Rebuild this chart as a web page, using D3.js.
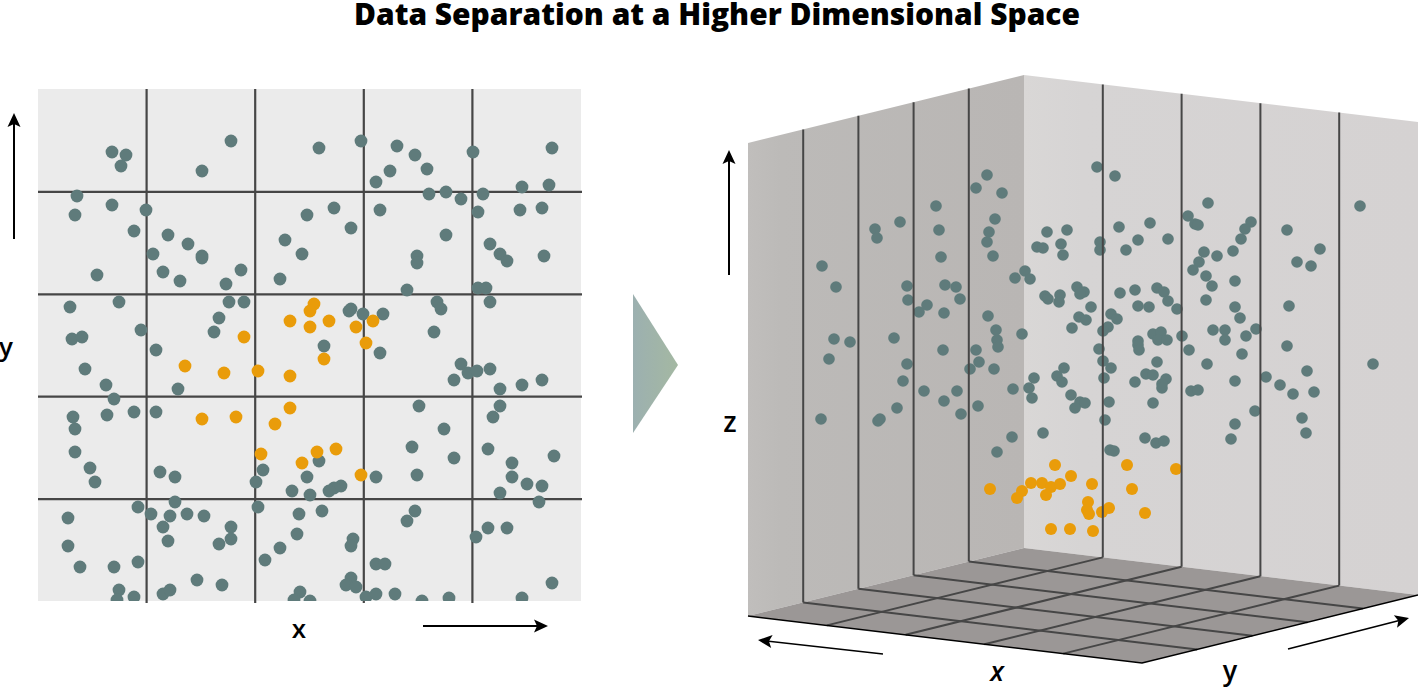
<!DOCTYPE html>
<html>
<head>
<meta charset="utf-8">
<script src="https://cdn.jsdelivr.net/npm/d3@7"></script>
<style>
  html, body { margin: 0; padding: 0; background: #fff; }
  svg { display: block; }
  text { font-family: "Open Sans", sans-serif; fill: #000; }
</style>
</head>
<body>
<svg id="chart" width="1418" height="688"></svg>
<script>
const titleText = 'Data Separation at a Higher Dimensional Space'
const labels2d = ['x', 'y']
const labels3d = ['x', 'y', 'z']

// left panel, [x, y] in panel units
const teal2d = [
  [193,460],[74,449],[88,446],[83,435],[164,430],[39,405],[74,396],[37,386],[108,391],[96,370],
  [130,366],[150,357],[115,347],[164,345],[164,343],[247,361],[264,347],[203,331],[125,329],[142,320],
  [188,317],[242,322],[59,326],[32,294],[81,299],[191,299],[206,299],[181,283],[176,269],[103,271],
  [34,262],[44,264],[118,251],[281,453],[323,460],[359,455],[377,446],[389,432],[352,430],[338,419],
  [435,449],[514,453],[484,414],[511,416],[391,407],[408,409],[423,402],[445,407],[440,389],[482,391],
  [504,393],[342,391],[296,393],[269,386],[313,373],[408,366],[452,357],[462,347],[469,340],[506,345],
  [379,345],[379,338],[369,311],[440,313],[448,313],[452,299],[399,299],[403,292],[396,269],[311,290],
  [313,292],[325,287],[345,287],[286,255],[342,248],[47,232],[68,216],[76,202],[140,212],[35,184],
  [69,186],[96,189],[118,189],[37,172],[37,149],[52,133],[57,119],[122,129],[137,124],[225,131],
  [218,119],[254,110],[137,99],[100,94],[113,87],[132,85],[149,87],[166,85],[30,83],[125,74],
  [193,74],[193,62],[181,57],[130,60],[30,55],[242,53],[259,67],[261,87],[220,94],[227,41],
  [42,34],[76,34],[100,39],[81,11],[79,1],[96,4],[125,7],[132,11],[159,21],[184,16],
  [262,9],[256,1],[423,237],[430,228],[439,230],[452,232],[416,221],[462,212],[484,216],[504,221],
  [462,195],[455,184],[381,195],[406,172],[374,154],[416,143],[450,152],[474,138],[516,145],[379,126],
  [474,124],[489,117],[504,115],[462,108],[501,99],[338,124],[377,90],[369,80],[450,73],[469,73],
  [438,64],[281,140],[269,124],[303,115],[296,113],[291,110],[272,106],[284,90],[315,62],[313,55],
  [338,37],[347,37],[313,23],[308,16],[318,14],[328,4],[338,7],[357,7],[384,0],[411,3],
  [484,3],[514,18],[272,0]
]
const orange2d = [
  [252,280],[206,264],[276,297],[272,290],[291,280],[272,274],[318,274],[335,280],[328,258],[286,242],
  [147,235],[186,228],[220,230],[252,225],[252,193],[164,182],[198,184],[237,177],[223,147],[264,138],
  [279,149],[298,152],[323,126]
]

// right panel, [x, z] as seen on the page
const teal3d = [
  [239,441],[228,428],[254,423],[188,410],[247,397],[152,394],[127,387],[129,378],[191,386],[241,384],
  [239,374],[193,359],[245,360],[299,384],[319,386],[313,372],[289,369],[295,368],[315,361],[74,350],
  [88,329],[159,330],[160,316],[197,331],[208,329],[212,317],[179,311],[171,304],[196,303],[267,338],
  [277,345],[282,337],[297,320],[300,317],[312,321],[311,314],[240,300],[248,286],[249,276],[250,269],
  [274,282],[86,277],[102,274],[146,278],[81,257],[195,266],[228,266],[231,254],[159,252],[222,247],
  [246,247],[316,248],[352,374],[352,366],[371,389],[402,393],[390,376],[420,377],[378,366],[440,400],
  [447,392],[450,391],[456,364],[451,354],[445,346],[329,329],[336,324],[332,322],[343,309],[331,299],
  [338,296],[324,288],[363,302],[369,297],[360,289],[355,285],[372,323],[387,326],[390,310],[401,309],
  [409,328],[416,324],[420,315],[429,307],[405,282],[413,284],[410,276],[419,276],[434,280],[390,275],
  [390,271],[391,266],[351,267],[355,255],[441,266],[409,254],[363,248],[286,238],[309,240],[314,234],
  [281,228],[265,227],[284,218],[356,238],[398,242],[405,241],[418,237],[414,232],[414,228],[387,234],
  [443,225],[450,226],[323,221],[332,214],[337,213],[327,208],[361,214],[405,213],[357,196],[264,179],
  [295,183],[249,164],[397,178],[408,173],[416,175],[362,166],[366,165],[155,235],[176,225],[209,225],
  [196,215],[149,208],[230,210],[213,202],[73,197],[130,195],[132,197],[349,449],[367,440],[460,413],
  [612,410],[503,394],[497,387],[493,377],[539,386],[572,367],[469,360],[485,365],[549,354],[563,350],
  [458,340],[464,330],[487,335],[458,316],[487,309],[541,310],[492,298],[465,286],[477,286],[477,276],
  [498,280],[508,287],[539,270],[494,262],[459,252],[559,245],[625,252],[487,235],[518,239],[532,231],
  [545,222],[566,224],[507,205],[487,192],[483,177],[554,198],[558,183]
]
const orange3d = [
  [307,151],[379,151],[428,147],[323,140],[283,133],[294,133],[303,129],[312,132],[344,132],[384,127],
  [274,125],[269,118],[298,121],[340,114],[339,106],[341,102],[354,104],[361,108],[397,103],[303,87],
  [322,87],[345,85],[242,127]
]

const gridSteps = [0.2, 0.4, 0.6, 0.8]
const tealColor = '#5f7b7b'
const orangeColor = '#e99c0a'
const lineColor = '#464646'

const svg = d3.select('#chart')
const defs = svg.append('defs')

const addGradient = (id, stops) => {
  const g = defs.append('linearGradient')
    .attr('id', id)
    .attr('x1', '0%').attr('y1', '0%')
    .attr('x2', '100%').attr('y2', '0%')
  stops.forEach(([offset, color]) => {
    g.append('stop').attr('offset', offset).attr('stop-color', color)
  })
}

addGradient('wall-left', [['0%', '#c0bebc'], ['12%', '#bcbab8'], ['100%', '#b9b6b4']])
addGradient('wall-right', [['0%', '#d9d7d6'], ['15%', '#d6d4d4'], ['100%', '#d5d2d2']])
addGradient('pointer', [['0%', '#9cb0b0'], ['100%', '#a4b8a2']])

defs.append('marker')
  .attr('id', 'head')
  .attr('markerUnits', 'userSpaceOnUse')
  .attr('viewBox', '-16 -8 20 16')
  .attr('refX', 0).attr('refY', 0)
  .attr('markerWidth', 20).attr('markerHeight', 16)
  .attr('orient', 'auto')
  .append('path')
  .attr('d', 'M3,0L-11,-6.5L-8,0L-11,6.5Z')
  .attr('fill', '#000')

const drawDots = (group, data, color, r, scales) => {
  group.append('g')
    .attr('fill', color)
    .selectAll('circle')
    .data(data)
    .join('circle')
    .attr('cx', d => scales.x(d[0]))
    .attr('cy', d => scales.y(d[1]))
    .attr('r', r)
}

// the head reaches 3px past the end of the line, so the tip stays sharp
const drawArrow = (x1, y1, x2, y2, width) => {
  const len = Math.hypot(x2 - x1, y2 - y1)
  svg.append('line')
    .attr('x1', x1).attr('y1', y1)
    .attr('x2', x2 - (x2 - x1) / len * 3).attr('y2', y2 - (y2 - y1) / len * 3)
    .attr('stroke', '#000')
    .attr('stroke-width', width)
    .attr('marker-end', 'url(#head)')
}

const drawLabel = (text, x, y, size, style) => {
  svg.append('text')
    .attr('x', x).attr('y', y)
    .attr('text-anchor', 'middle')
    .attr('font-size', size)
    .attr('font-weight', 600)
    .attr('font-style', style || 'normal')
    .text(text)
}

const drawFlat = () => {
  const box = { left: 38, right: 581, top: 89, bottom: 601 }
  const scales = {
    x: d3.scaleLinear().domain([0, 543]).range([box.left, box.right]),
    y: d3.scaleLinear().domain([0, 512]).range([box.bottom, box.top])
  }
  const w = box.right - box.left
  const h = box.bottom - box.top

  defs.append('clipPath')
    .attr('id', 'flat-clip')
    .append('rect')
    .attr('x', box.left).attr('y', box.top)
    .attr('width', w).attr('height', h)

  const flat = svg.append('g')
  flat.append('rect')
    .attr('x', box.left).attr('y', box.top)
    .attr('width', w).attr('height', h)
    .attr('fill', '#ebebeb')

  flat.append('g')
    .selectAll('line')
    .data(gridSteps)
    .join('line')
    .attr('x1', d => box.left + w * d).attr('x2', d => box.left + w * d)
    .attr('y1', box.top).attr('y2', box.bottom + 2)
    .attr('stroke', lineColor).attr('stroke-width', 2.2)

  flat.append('g')
    .selectAll('line')
    .data(gridSteps)
    .join('line')
    .attr('y1', d => box.top + h * (1 - d) + 0.5).attr('y2', d => box.top + h * (1 - d) + 0.5)
    .attr('x1', box.left).attr('x2', box.right + 1)
    .attr('stroke', lineColor).attr('stroke-width', 2.2)

  const dots = flat.append('g').attr('clip-path', 'url(#flat-clip)')
  drawDots(dots, teal2d, tealColor, 6.4, scales)
  drawDots(dots, orange2d, orangeColor, 6.4, scales)
}

const drawBox = () => {
  const scales = {
    x: d3.scaleLinear().domain([0, 670]).range([748, 1418]),
    y: d3.scaleLinear().domain([0, 542]).range([616, 74])
  }
  const corners = {
    backTop: [1024, 75],
    leftTop: [748, 143],
    rightTop: [1418, 122],
    back: [1024, 548],
    left: [748, 616],
    right: [1418, 595],
    front: [1142, 663]
  }
  const lerp = (a, b, t) => d3.interpolateArray(a, b)(t)
  const polygon = pts => 'M' + pts.map(p => p.join(',')).join('L') + 'Z'
  const box = svg.append('g')

  box.append('path')
    .attr('d', polygon([corners.leftTop, corners.backTop, corners.back, corners.left]))
    .attr('fill', 'url(#wall-left)')
  box.append('path')
    .attr('d', polygon([corners.backTop, corners.rightTop, corners.right, corners.back]))
    .attr('fill', 'url(#wall-right)')
  box.append('path')
    .attr('d', polygon([corners.left, corners.back, corners.right, corners.front]))
    .attr('fill', '#9b9796')

  const segments = [
    ...gridSteps.map(t => [lerp(corners.leftTop, corners.backTop, t), lerp(corners.left, corners.back, t)]),
    ...gridSteps.map(t => [lerp(corners.backTop, corners.rightTop, t), lerp(corners.back, corners.right, t)]),
    ...gridSteps.map(t => [lerp(corners.left, corners.back, t), lerp(corners.front, corners.right, t)]),
    ...gridSteps.map(t => [lerp(corners.back, corners.right, t), lerp(corners.left, corners.front, t)])
  ]

  drawDots(box, teal3d, tealColor, 5.8, scales)
  drawDots(box, orange3d, orangeColor, 6, scales)

  box.append('g')
    .selectAll('line')
    .data(segments)
    .join('line')
    .attr('x1', d => d[0][0]).attr('y1', d => d[0][1])
    .attr('x2', d => d[1][0]).attr('y2', d => d[1][1])
    .attr('stroke', lineColor).attr('stroke-width', 2)

  box.append('path')
    .attr('d', d3.line()([corners.left, corners.front, corners.right]))
    .attr('fill', 'none')
    .attr('stroke', '#000')
    .attr('stroke-width', 1.5)
}

svg.append('text')
  .attr('x', 717)
  .attr('y', 25)
  .attr('text-anchor', 'middle')
  .attr('font-size', 30)
  .attr('font-weight', 800)
  .attr('textLength', 726)
  .attr('lengthAdjust', 'spacingAndGlyphs')
  .text(titleText)

drawFlat()
drawBox()

svg.append('path')
  .attr('d', 'M633,294L678,365L633,433Z')
  .attr('fill', 'url(#pointer)')

drawArrow(14, 239, 14, 113, 2)
drawArrow(423, 626, 548, 626, 2)
drawArrow(729, 275, 729, 150, 2)
drawArrow(883, 654, 758, 640, 1.6)
drawArrow(1288, 649, 1409, 618, 1.6)

drawLabel(labels2d[0], 299, 638, 26)
drawLabel(labels2d[1], 6, 356, 26)
drawLabel(labels3d[2], 730, 432, 28)
drawLabel(labels3d[0], 997, 681, 27, 'italic')
drawLabel(labels3d[1], 1230, 680, 27)
</script>
</body>
</html>
